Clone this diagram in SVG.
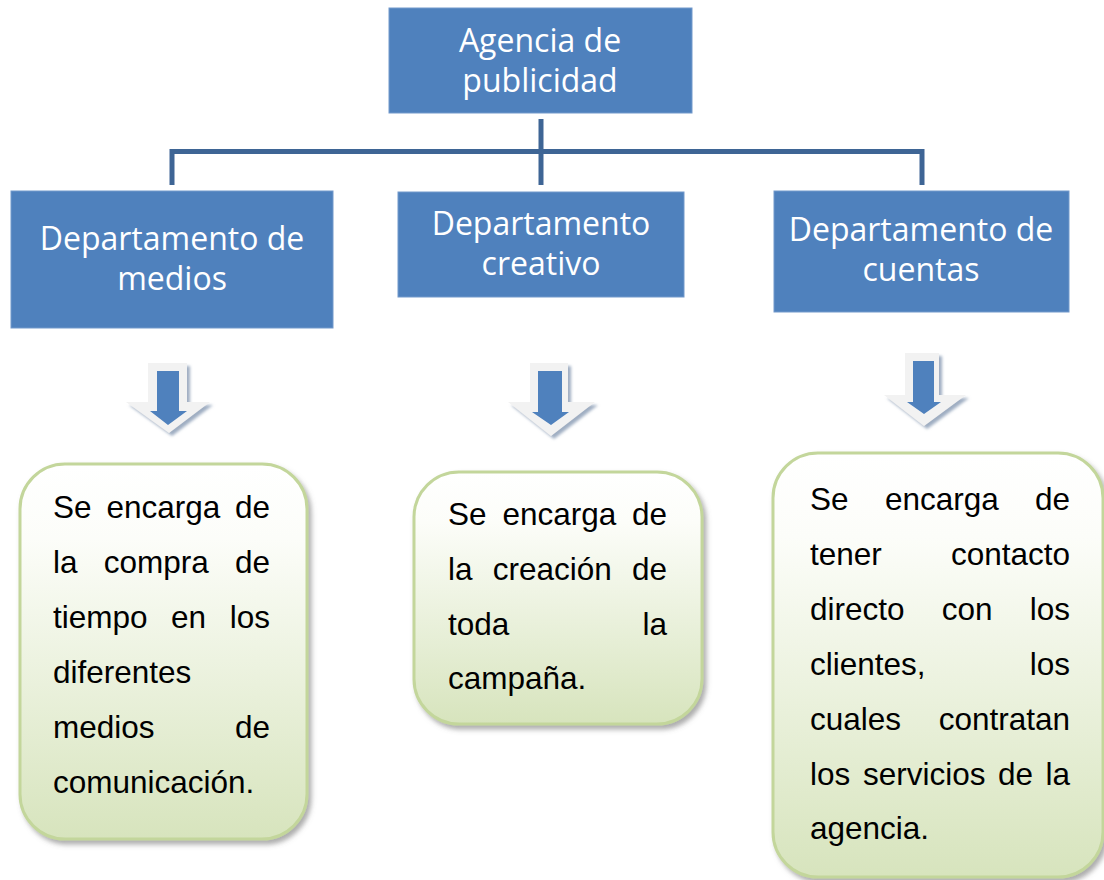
<svg xmlns="http://www.w3.org/2000/svg" width="1104" height="880" viewBox="0 0 1104 880">
<defs>
<style>
.blue{fill:#4f81bd;stroke:#7399cb;stroke-width:1}
.bt{font-family:"Open Sans","Noto Sans",sans-serif;font-size:32px;fill:#ffffff;text-anchor:middle}
.green{fill:url(#gg);stroke:#c3d69b;stroke-width:3;filter:url(#gs)}
.gt{font-family:"Liberation Sans",Arial,sans-serif;font-size:31.5px;fill:#000000}
.e{text-anchor:end}
.conn{fill:none;stroke:#3e6595;stroke-width:5}
.aout{fill:#f2f2f2;filter:url(#as)}
.ain{fill:#4f81bd}
</style>
<linearGradient id="gg" x1="0" y1="0" x2="0" y2="1">
<stop offset="0" stop-color="#ffffff"/>
<stop offset="0.2" stop-color="#fcfdf9"/>
<stop offset="1" stop-color="#d7e4bd"/>
</linearGradient>
<filter id="gs" x="-10%" y="-10%" width="125%" height="125%">
<feDropShadow dx="3" dy="4" stdDeviation="2.5" flood-color="#6b6b6b" flood-opacity="0.55"/>
</filter>
<filter id="as" x="-20%" y="-20%" width="150%" height="150%">
<feDropShadow dx="3" dy="3" stdDeviation="1.5" flood-color="#7f92ad" flood-opacity="0.75"/>
</filter>
</defs>
<rect width="1104" height="880" fill="#ffffff"/>

<g id="connectors">
<path class="conn" d="M541,119 V185"/>
<path class="conn" d="M172,185 V151.5 H922 V185"/>
</g>

<g id="agencia">
<rect class="blue" x="389" y="8" width="303" height="105"/>
<text class="bt" x="540" y="52">Agencia de</text>
<text class="bt" x="540" y="92">publicidad</text>
</g>

<g id="dep-medios">
<rect class="blue" x="11" y="191" width="322" height="137"/>
<text class="bt" x="172" y="250">Departamento de</text>
<text class="bt" x="172" y="290">medios</text>
</g>

<g id="dep-creativo">
<rect class="blue" x="398" y="192" width="286" height="105"/>
<text class="bt" x="541" y="235">Departamento</text>
<text class="bt" x="541" y="275">creativo</text>
</g>

<g id="dep-cuentas">
<rect class="blue" x="774" y="191" width="295" height="121"/>
<text class="bt" x="921" y="241">Departamento de</text>
<text class="bt" x="921" y="281">cuentas</text>
</g>

<g id="arrow-medios">
<path class="aout" d="M148,363 H187 V402 H210 L169,433 L126,402 H148 Z"/>
<path class="ain" d="M157,371 H179 V411 H187 L168,425 L150,411 H157 Z"/>
</g>
<g id="arrow-creativo">
<path class="aout" d="M530,363 H568 V402 H595 L551,436 L508,402 H530 Z"/>
<path class="ain" d="M538,371 H562 V412 H569 L551,425 L532,412 H538 Z"/>
</g>
<g id="arrow-cuentas">
<path class="aout" d="M905,353 H939 V395 H966 L924,426 L884,395 H905 Z"/>
<path class="ain" d="M913,361 H934 V402 H941 L924,414 L907,402 H913 Z"/>
</g>

<g id="desc-medios">
<rect class="green" x="20" y="464" width="287" height="375" rx="45" ry="45"/>
<text class="gt" x="53" y="518">Se</text><text class="gt" x="106.4" y="518">encarga</text><text class="gt e" x="270" y="518">de</text>
<text class="gt" x="53" y="573">la</text><text class="gt" x="103.8" y="573">compra</text><text class="gt e" x="270" y="573">de</text>
<text class="gt" x="53" y="628">tiempo</text><text class="gt" x="171.1" y="628">en</text><text class="gt e" x="270" y="628">los</text>
<text class="gt" x="53" y="683">diferentes</text>
<text class="gt" x="53" y="738">medios</text><text class="gt e" x="270" y="738">de</text>
<text class="gt" x="53" y="793">comunicación.</text>
</g>

<g id="desc-creativo">
<rect class="green" x="414" y="472" width="288" height="252" rx="45" ry="45"/>
<text class="gt" x="448" y="525">Se</text><text class="gt" x="502.4" y="525">encarga</text><text class="gt e" x="667" y="525">de</text>
<text class="gt" x="448" y="580">la</text><text class="gt" x="492.8" y="580">creación</text><text class="gt e" x="667" y="580">de</text>
<text class="gt" x="448" y="635">toda</text><text class="gt e" x="667" y="635">la</text>
<text class="gt" x="448" y="689">campaña.</text>
</g>

<g id="desc-cuentas">
<rect class="green" x="773" y="453" width="330" height="424" rx="45" ry="45"/>
<text class="gt" x="810" y="510">Se</text><text class="gt" x="884.9" y="510">encarga</text><text class="gt e" x="1070" y="510">de</text>
<text class="gt" x="810" y="565">tener</text><text class="gt e" x="1070" y="565">contacto</text>
<text class="gt" x="810" y="620">directo</text><text class="gt" x="941.7" y="620">con</text><text class="gt e" x="1070" y="620">los</text>
<text class="gt" x="810" y="675">clientes,</text><text class="gt e" x="1070" y="675">los</text>
<text class="gt" x="810" y="730">cuales</text><text class="gt e" x="1070" y="730">contratan</text>
<text class="gt" x="810" y="785">los</text><text class="gt" x="862.9" y="785">servicios</text><text class="gt" x="998" y="785">de</text><text class="gt e" x="1070" y="785">la</text>
<text class="gt" x="810" y="839">agencia.</text>
</g>
</svg>
